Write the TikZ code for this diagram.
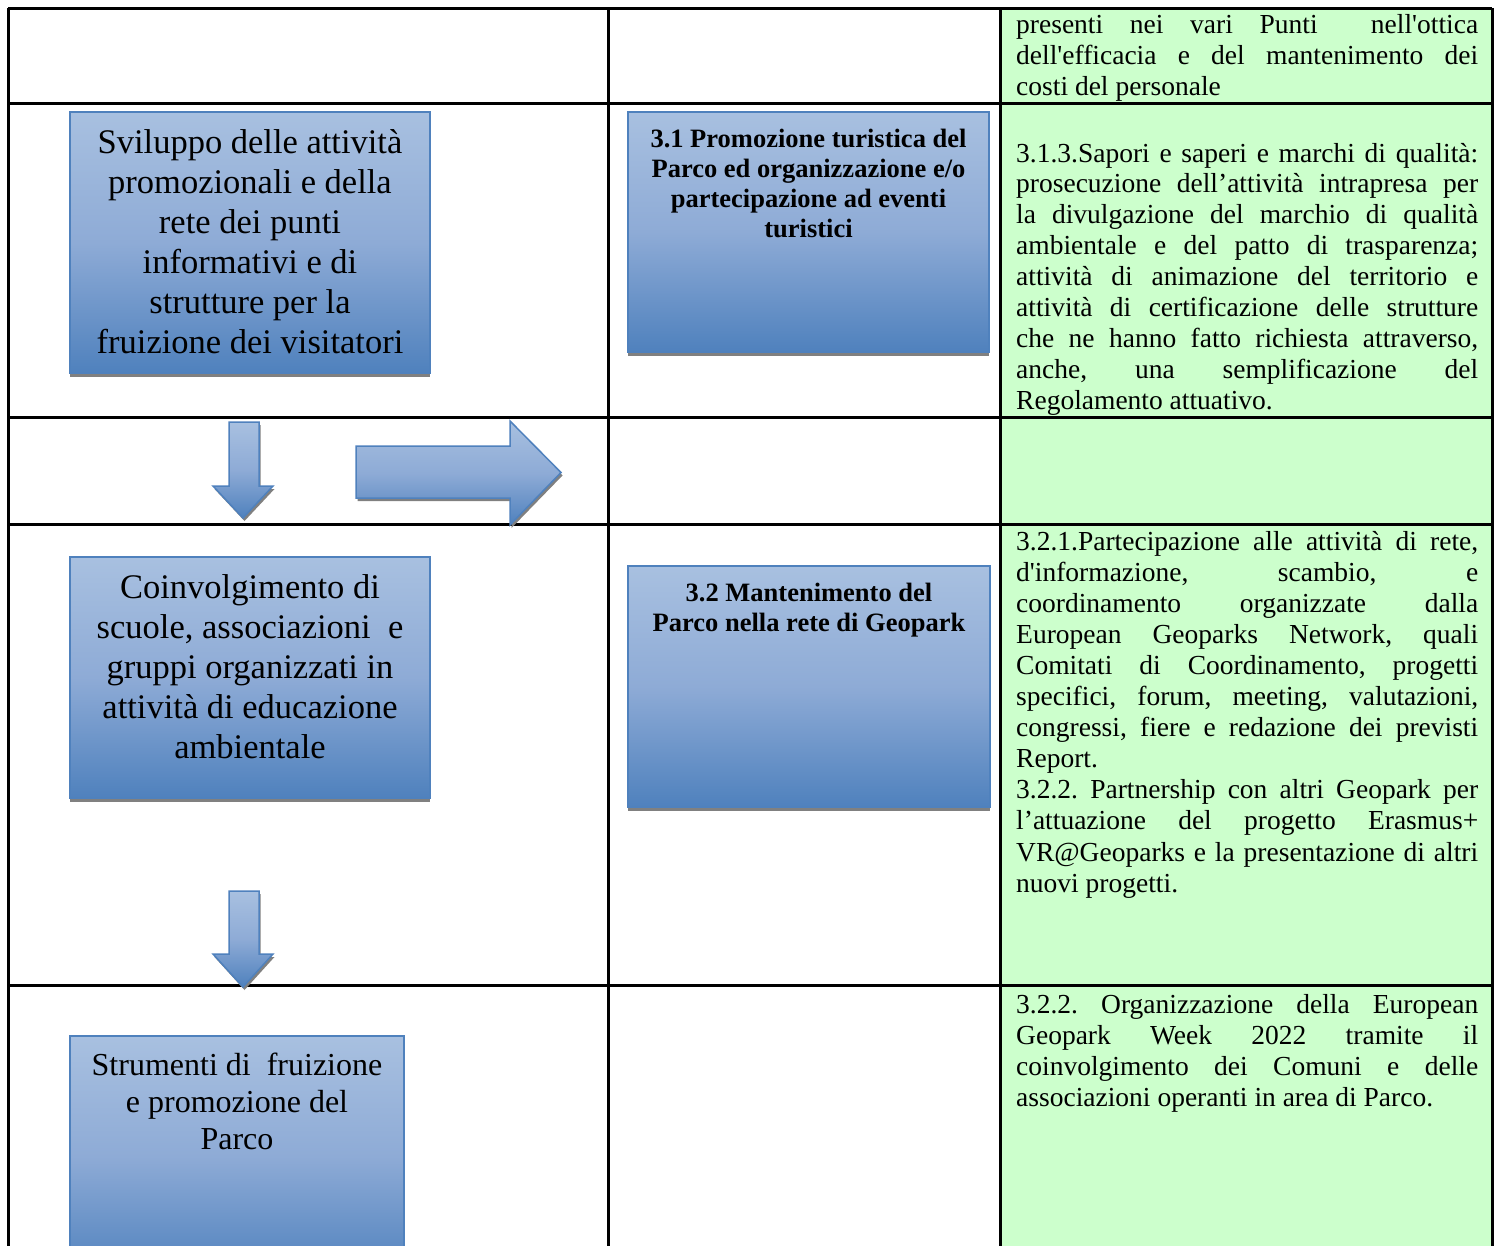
\documentclass[tikz,border=0pt]{standalone}
\usepackage{fontspec}
\setmainfont{Liberation Serif}
\usetikzlibrary{shadows}
\definecolor{cellgreen}{HTML}{CCFFCC}
\definecolor{bluetop}{HTML}{A8C0E0}
\definecolor{bluemid}{HTML}{8EABD6}
\definecolor{bluebot}{HTML}{4F81BD}
\definecolor{blueline}{HTML}{4F81BD}
\newcommand{\jl}[1]{\makebox[\linewidth][s]{#1}\\}
\frenchspacing
\begin{document}
\begin{tikzpicture}[x=1pt,y=-1pt,
  gridline/.style={line width=3pt, black},
  bluebox/.style={draw=blueline, line width=1.5pt, top color=bluetop, bottom color=bluebot, middle color=bluemid, inner sep=0pt,
    drop shadow={shadow xshift=0pt, shadow yshift=-4pt, fill=black!50, opacity=1}},
  bluearrow/.style={draw=blueline, line width=1.5pt, top color=bluetop, bottom color=bluebot, middle color=bluemid,
    drop shadow={shadow xshift=1.5pt, shadow yshift=-3pt, fill=black!50, opacity=1}},
  txt/.style={inner sep=0pt, anchor=base},
  gtxt/.style={inner sep=0pt, anchor=base west}]
\useasboundingbox (0,0) rectangle (1501,1245);
\clip (0,0) rectangle (1501,1245);
\fill[white] (0,0) rectangle (1501,1245);
% green column
\fill[cellgreen] (1000,8) rectangle (1492,1250);
% table grid
\draw[gridline] (8,8) -- (1492,8);
\draw[gridline] (8,103) -- (1492,103);
\draw[gridline] (8,417) -- (1492,417);
\draw[gridline] (8,524) -- (1492,524);
\draw[gridline] (8,985) -- (1492,985);
\draw[gridline] (8,8) -- (8,1250);
\draw[gridline] (608,8) -- (608,1250);
\draw[gridline] (1000,8) -- (1000,1250);
\draw[gridline] (1492,8) -- (1492,1250);
% blue boxes
\node[bluebox, minimum width=360pt, minimum height=261pt] (b1) at (250,242.5) {};
\node[bluebox, minimum width=361pt, minimum height=240pt] (b31) at (808.5,232) {};
\node[bluebox, minimum width=360pt, minimum height=241pt] (b2) at (250,677.5) {};
\node[bluebox, minimum width=362pt, minimum height=241pt] (b32) at (809,686.5) {};
\node[bluebox, minimum width=334pt, minimum height=241pt] (b3) at (237,1156.5) {};
% arrows
\path[bluearrow] (229,422) -- (259,422) -- (259,486) -- (273,486) -- (243,518) -- (213,486) -- (229,486) -- cycle;
\path[bluearrow] (356,446) -- (510,446) -- (510,421) -- (561,472.5) -- (510,525) -- (510,498) -- (356,498) -- cycle;
\path[bluearrow] (229,891) -- (259,891) -- (259,954) -- (273,954) -- (243,987) -- (213,954) -- (229,954) -- cycle;
% box texts
\node[txt] (t1) at (250,153) {\parbox[t]{355pt}{\centering\fontsize{34.5}{40}\selectfont
Sviluppo delle attività\\ promozionali e della\\ rete dei punti\\ informativi e di\\ strutture per la\\ fruizione dei visitatori}};
\node[txt] (t31) at (808.5,147) {\parbox[t]{350pt}{\centering\fontsize{26.5}{30.3}\selectfont\bfseries
3.1 Promozione turistica del\\ Parco ed organizzazione e/o\\ partecipazione ad eventi\\ turistici}};
\node[txt] (t2) at (250,598) {\parbox[t]{355pt}{\centering\fontsize{34.5}{40}\selectfont
Coinvolgimento di\\ scuole, associazioni\ \ e\\ gruppi organizzati in\\ attività di educazione\\ ambientale}};
\node[txt] (t32) at (809,601.7) {\parbox[t]{350pt}{\centering\fontsize{26.5}{30}\selectfont\bfseries
3.2 Mantenimento del\\ Parco nella rete di Geopark}};
\node[txt] (t3) at (237,1075) {\parbox[t]{330pt}{\centering\fontsize{32}{37}\selectfont
Strumenti di\ \ fruizione\\ e promozione del\\ Parco}};
% green texts
\node[gtxt] (g1) at (1016,33) {\parbox[t]{462pt}{\fontsize{27.5}{31}\selectfont
\jl{presenti nei vari Punti\ \ nell\textquotesingle ottica}
\jl{dell\textquotesingle efficacia e del mantenimento dei}
costi del personale}};
\node[gtxt] (g2) at (1016,162) {\parbox[t]{462pt}{\fontsize{27.5}{30.9}\selectfont
\jl{3.1.3.Sapori e saperi e marchi di qualità:}
\jl{prosecuzione dell’attività intrapresa per}
\jl{la divulgazione del marchio di qualità}
\jl{ambientale e del patto di trasparenza;}
\jl{attività di animazione del territorio e}
\jl{attività di certificazione delle strutture}
\jl{che ne hanno fatto richiesta attraverso,}
\jl{anche, una semplificazione del}
Regolamento attuativo.}};
\node[gtxt] (g3) at (1016,550) {\parbox[t]{462pt}{\fontsize{27.5}{31.1}\selectfont
\jl{3.2.1.Partecipazione alle attività di rete,}
\jl{d\textquotesingle informazione, scambio, e}
\jl{coordinamento organizzate dalla}
\jl{European Geoparks Network, quali}
\jl{Comitati di Coordinamento, progetti}
\jl{specifici, forum, meeting, valutazioni,}
\jl{congressi, fiere e redazione dei previsti}
Report.\\
\jl{3.2.2. Partnership con altri Geopark per}
\jl{l’attuazione del progetto Erasmus+}
\jl{VR@Geoparks e la presentazione di altri}
nuovi progetti.}};
\node[gtxt] (g4) at (1016,1013) {\parbox[t]{462pt}{\fontsize{27.5}{31}\selectfont
\jl{3.2.2. Organizzazione della European}
\jl{Geopark Week 2022 tramite il}
\jl{coinvolgimento dei Comuni e delle}
associazioni operanti in area di Parco.}};
\end{tikzpicture}
\end{document}
